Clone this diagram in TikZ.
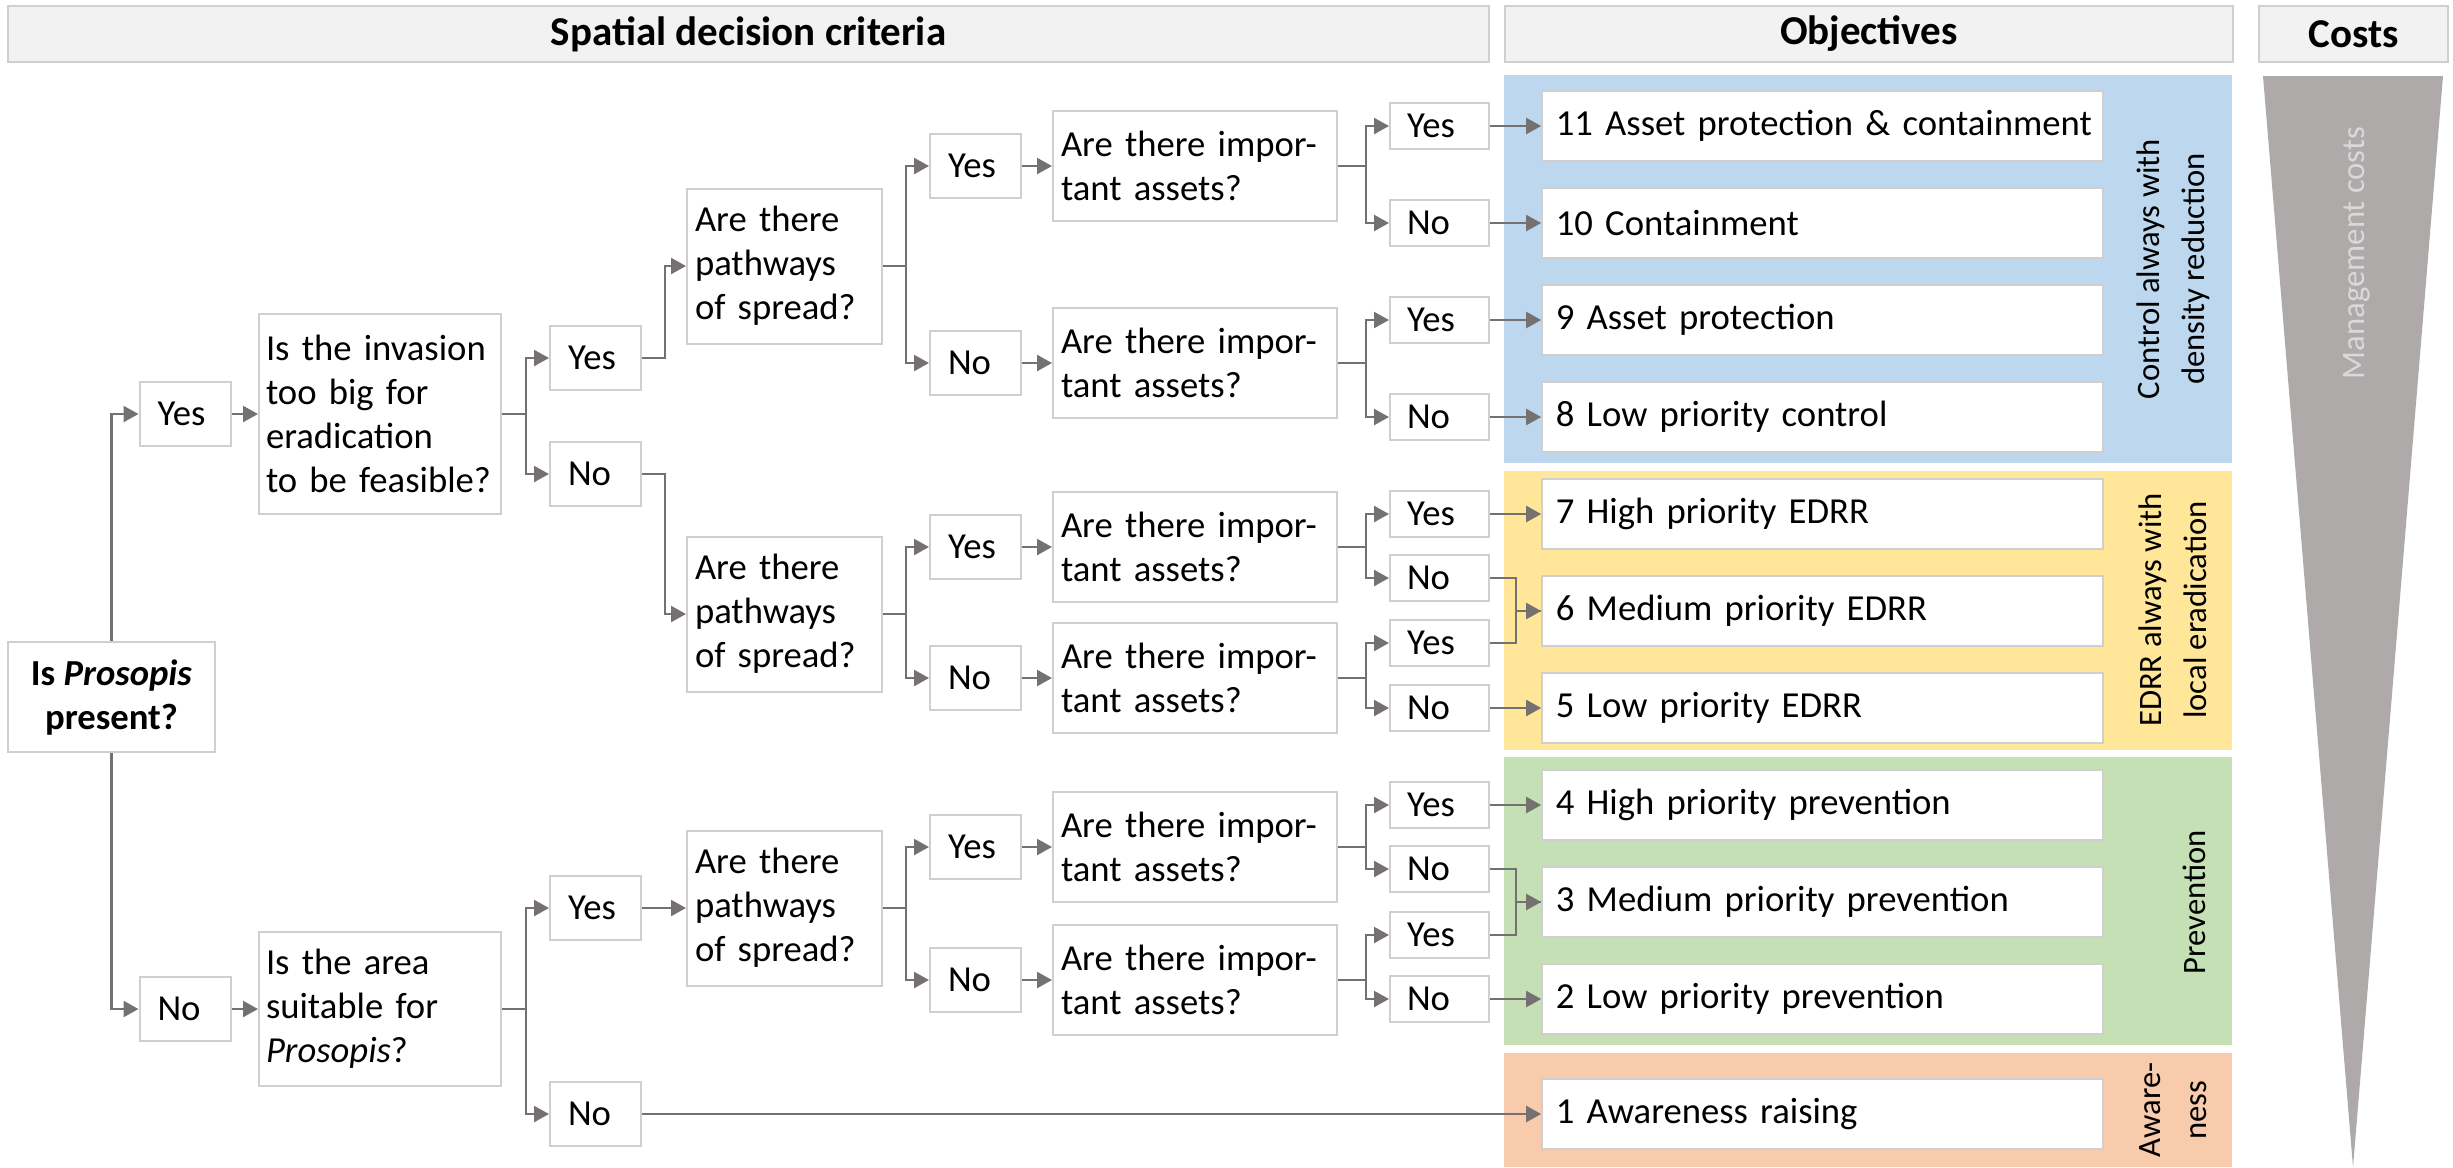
\documentclass[tikz,border=0pt]{standalone}
\usepackage{fontspec}
\setmainfont{Carlito}
\usepackage{xcolor}
\usetikzlibrary{arrows.meta}

\definecolor{boxline}{HTML}{D0CECE}
\definecolor{headfill}{HTML}{F2F2F2}
\definecolor{arrowgray}{HTML}{767171}
\definecolor{ctrlblue}{HTML}{BDD7EE}
\definecolor{edrryellow}{HTML}{FFE699}
\definecolor{prevgreen}{HTML}{C5E0B4}
\definecolor{awareorange}{HTML}{F8CBAD}
\definecolor{costgray}{HTML}{AEAAAA}
\definecolor{costtext}{HTML}{D9D9D9}

\begin{document}
\begin{tikzpicture}[x=0.3pt,y=-0.3pt,
  >={Triangle[length=4.5pt,width=4.8pt]},
  box/.style={draw=boxline,line width=0.6pt,fill=white,inner sep=0pt,
    font=\fontsize{11}{13.2}\selectfont},
  header/.style={box,fill=headfill,minimum height=16.8pt,
    font=\fontsize{12.3}{14.8}\selectfont\bfseries},
  answer/.style={box,minimum height=19.2pt,text width=16.5pt,inner xsep=5.4pt,align=left},
  shortanswer/.style={box,minimum height=13.8pt,text width=19.5pt,inner xsep=5.1pt,align=left},
  question/.style={box,text width=68.4pt,inner xsep=2.1pt,align=left},
  pathq/.style={box,minimum height=46.5pt,text width=53.7pt,inner xsep=2.4pt,align=left},
  assetq/.style={box,minimum height=33pt,text width=80.4pt,inner xsep=2.4pt,align=left},
  goal/.style={box,minimum height=21pt,text width=160pt,inner xsep=4.1pt,align=left},
  sidelabel/.style={rotate=90,align=center,font=\fontsize{9.8}{13.6}\selectfont},
  conn/.style={draw=arrowgray,line width=0.7pt}]
  \useasboundingbox (0,0) rectangle (2453,1167);

  % Kopfzeile
  \node[header,minimum width=444.3pt] (hcrit) at (748.5,34) {Spatial decision criteria};
  \node[header,minimum width=218.4pt] (hobj) at (1869,34) {Objectives};
  \node[header,minimum width=56.7pt] (hcost) at (2353.5,34) {Costs};

  % farbige Felder hinter den Zielen
  \fill[ctrlblue] (1504,75) rectangle (2232,463);
  \fill[edrryellow] (1504,471) rectangle (2232,750);
  \fill[prevgreen] (1504,757) rectangle (2232,1045);
  \fill[awareorange] (1504,1053) rectangle (2232,1167);

  % Kostenkeil
  \fill[costgray] (2263,76) -- (2443,76) -- (2353,1167) -- cycle;
  \node[sidelabel,text=costtext] (lcost) at (2357,253) {Management costs};

  % Seitenbeschriftung der Felder
  \node[sidelabel] (lctrl) at (2173,269) {Control always with\\density reduction};
  \node[sidelabel] (ledrr) at (2173,610) {EDRR always with\\local eradication};
  \node[sidelabel] (lprev) at (2194,902) {Prevention};
  \node[sidelabel] (laware) at (2173,1110) {Aware-\\ness};

  % erste Frage
  \node[box,minimum width=62.1pt,minimum height=33pt,align=center] (root) at (111.5,697)
    {\textbf{Is \textit{Prosopis}}\\\textbf{present?}};
  \node[answer] (yesA) at (185,414) {Yes};
  \node[answer] (noA) at (185,1009) {No};

  % zweite Ebene
  \node[question,minimum height=60pt] (inv) at (380,414)
    {Is the invasion\\too big for\\eradication\\to be feasible?};
  \node[question,minimum height=46.2pt] (area) at (380,1009)
    {Is the area\\suitable for\\\textit{Prosopis}?};
  \node[answer] (yesB1) at (595.5,358) {Yes};
  \node[answer] (noB1) at (595.5,474) {No};
  \node[answer] (yesB2) at (595.5,908) {Yes};
  \node[answer] (noB2) at (595.5,1114) {No};

  % Ausbreitungswege
  \node[pathq] (pw1) at (784.5,266) {Are there\\pathways\\of spread?};
  \node[pathq] (pw2) at (784.5,614) {Are there\\pathways\\of spread?};
  \node[pathq] (pw3) at (784.5,908) {Are there\\pathways\\of spread?};
  \node[answer] (yesC1) at (975.5,166) {Yes};
  \node[answer] (noC1) at (975.5,363) {No};
  \node[answer] (yesC2) at (975.5,547) {Yes};
  \node[answer] (noC2) at (975.5,678) {No};
  \node[answer] (yesC3) at (975.5,847) {Yes};
  \node[answer] (noC3) at (975.5,980) {No};

  % Schutzgueter
  \node[assetq] (as1) at (1195,166) {Are there impor-\\tant assets?};
  \node[assetq] (as2) at (1195,363) {Are there impor-\\tant assets?};
  \node[assetq] (as3) at (1195,547) {Are there impor-\\tant assets?};
  \node[assetq] (as4) at (1195,678) {Are there impor-\\tant assets?};
  \node[assetq] (as5) at (1195,847) {Are there impor-\\tant assets?};
  \node[assetq] (as6) at (1195,980) {Are there impor-\\tant assets?};
  \node[shortanswer] (yesD1) at (1439.5,126) {Yes};
  \node[shortanswer] (noD1) at (1439.5,223) {No};
  \node[shortanswer] (yesD2) at (1439.5,320) {Yes};
  \node[shortanswer] (noD2) at (1439.5,417) {No};
  \node[shortanswer] (yesD3) at (1439.5,514) {Yes};
  \node[shortanswer] (noD3) at (1439.5,578) {No};
  \node[shortanswer] (yesD4) at (1439.5,643) {Yes};
  \node[shortanswer] (noD4) at (1439.5,708) {No};
  \node[shortanswer] (yesD5) at (1439.5,805) {Yes};
  \node[shortanswer] (noD5) at (1439.5,869) {No};
  \node[shortanswer] (yesD6) at (1439.5,935) {Yes};
  \node[shortanswer] (noD6) at (1439.5,999) {No};

  % Ziele
  \node[goal] (g11) at (1822.5,126) {\mbox{11 Asset protection \& containment}};
  \node[goal] (g10) at (1822.5,223) {10 Containment};
  \node[goal] (g9) at (1822.5,320) {9 Asset protection};
  \node[goal] (g8) at (1822.5,417) {8 Low priority control};
  \node[goal] (g7) at (1822.5,514) {7 High priority EDRR};
  \node[goal] (g6) at (1822.5,611) {6 Medium priority EDRR};
  \node[goal] (g5) at (1822.5,708) {5 Low priority EDRR};
  \node[goal] (g4) at (1822.5,805) {4 High priority prevention};
  \node[goal] (g3) at (1822.5,902) {3 Medium priority prevention};
  \node[goal] (g2) at (1822.5,999) {2 Low priority prevention};
  \node[goal] (g1) at (1822.5,1114) {1 Awareness raising};

  % Verbindungen links
  \draw[conn,->] (root.north) |- (yesA.west);
  \draw[conn,->] (root.south) |- (noA.west);
  \draw[conn,->] (yesA) -- (inv);
  \draw[conn,->] (noA) -- (area);
  \draw[conn,->] (inv.east) -- ++(24,0) |- (yesB1.west);
  \draw[conn,->] (inv.east) -- ++(24,0) |- (noB1.west);
  \draw[conn,->] (area.east) -- ++(24,0) |- (yesB2.west);
  \draw[conn,->] (area.east) -- ++(24,0) |- (noB2.west);
  \draw[conn,->] (yesB1.east) -- ++(23,0) |- (pw1.west);
  \draw[conn,->] (noB1.east) -- ++(23,0) |- (pw2.west);
  \draw[conn,->] (yesB2) -- (pw3);
  \draw[conn,->] (noB2) -- (g1);

  % Verbindungen Mitte
  \draw[conn,->] (pw1.east) -- ++(23,0) |- (yesC1.west);
  \draw[conn,->] (pw1.east) -- ++(23,0) |- (noC1.west);
  \draw[conn,->] (pw2.east) -- ++(23,0) |- (yesC2.west);
  \draw[conn,->] (pw2.east) -- ++(23,0) |- (noC2.west);
  \draw[conn,->] (pw3.east) -- ++(23,0) |- (yesC3.west);
  \draw[conn,->] (pw3.east) -- ++(23,0) |- (noC3.west);
  \draw[conn,->] (yesC1) -- (as1);
  \draw[conn,->] (noC1) -- (as2);
  \draw[conn,->] (yesC2) -- (as3);
  \draw[conn,->] (noC2) -- (as4);
  \draw[conn,->] (yesC3) -- (as5);
  \draw[conn,->] (noC3) -- (as6);

  % Verbindungen rechts
  \draw[conn,->] (as1.east) -- ++(28,0) |- (yesD1.west);
  \draw[conn,->] (as1.east) -- ++(28,0) |- (noD1.west);
  \draw[conn,->] (as2.east) -- ++(28,0) |- (yesD2.west);
  \draw[conn,->] (as2.east) -- ++(28,0) |- (noD2.west);
  \draw[conn,->] (as3.east) -- ++(28,0) |- (yesD3.west);
  \draw[conn,->] (as3.east) -- ++(28,0) |- (noD3.west);
  \draw[conn,->] (as4.east) -- ++(28,0) |- (yesD4.west);
  \draw[conn,->] (as4.east) -- ++(28,0) |- (noD4.west);
  \draw[conn,->] (as5.east) -- ++(28,0) |- (yesD5.west);
  \draw[conn,->] (as5.east) -- ++(28,0) |- (noD5.west);
  \draw[conn,->] (as6.east) -- ++(28,0) |- (yesD6.west);
  \draw[conn,->] (as6.east) -- ++(28,0) |- (noD6.west);

  % zu den Zielen
  \draw[conn,->] (yesD1) -- (g11);
  \draw[conn,->] (noD1) -- (g10);
  \draw[conn,->] (yesD2) -- (g9);
  \draw[conn,->] (noD2) -- (g8);
  \draw[conn,->] (yesD3) -- (g7);
  \draw[conn,->] (noD3.east) -- ++(26,0) |- (g6.west);
  \draw[conn] (yesD4.east) -- ++(26,0) |- (g6.west);
  \draw[conn,->] (noD4) -- (g5);
  \draw[conn,->] (yesD5) -- (g4);
  \draw[conn,->] (noD5.east) -- ++(26,0) |- (g3.west);
  \draw[conn] (yesD6.east) -- ++(26,0) |- (g3.west);
  \draw[conn,->] (noD6) -- (g2);
\end{tikzpicture}
\end{document}
